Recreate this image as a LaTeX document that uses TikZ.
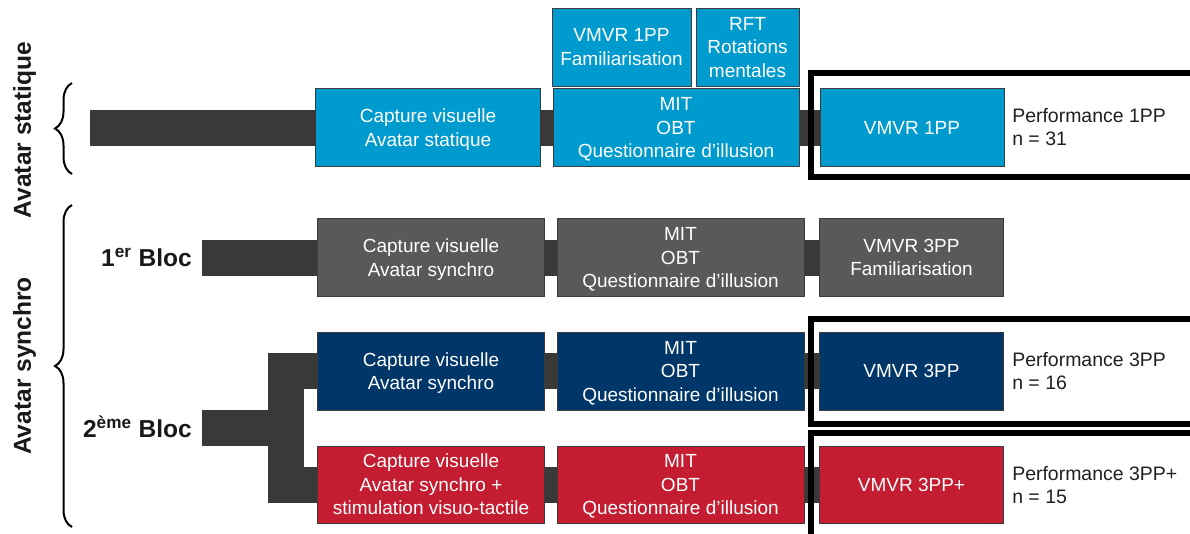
\documentclass[tikz,border=0pt]{standalone}
\usepackage{fontspec}
\setmainfont{Liberation Sans}
\usetikzlibrary{decorations.pathreplacing}
\definecolor{lblue}{RGB}{0,155,206}
\definecolor{gbox}{RGB}{89,89,89}
\definecolor{dblue}{RGB}{0,54,104}
\definecolor{rbox}{RGB}{196,28,48}
\definecolor{barcol}{RGB}{59,57,56}
\definecolor{boxline}{RGB}{60,60,60}
\newcommand\bxfont{\fontsize{14.25}{17.6}\selectfont}
\newcommand\pffont{\fontsize{14.6}{17.3}\selectfont}
\newcommand\sdfont{\fontsize{18.4}{22}\selectfont\bfseries}
\begin{document}
\begin{tikzpicture}[x=0.75pt,y=-0.75pt,
  box/.style={draw=boxline, line width=0.75pt, inner sep=0pt, align=center, text=white, font=\bxfont, text depth=0pt},
  sz/.style 2 args={minimum width=#1*0.75pt, minimum height=#2*0.75pt},
  bar/.style={draw=barcol, line width=27pt},
  frame/.style={draw=black, line width=4.5pt, line join=miter},
  side/.style={font=\sdfont, text=black!90, inner sep=0pt},
  perf/.style={font=\pffont, text=black!88, align=left, inner sep=0pt},
  curly/.style={decorate, decoration={brace, amplitude=12.75pt}, line width=1.5pt, draw=black}]
\useasboundingbox (0,0) rectangle (1190,533);
\clip (0,0) rectangle (1190,533);

% row 1 (Avatar statique)
\node[box, fill=lblue, sz={225}{78}] (cap1) at (428,127.5) {Capture visuelle\\Avatar statique};
\node[box, fill=lblue, sz={246}{78}] (mit1) at (676,127.5) {MIT\\OBT\\Questionnaire d’illusion};
\node[box, fill=lblue, sz={139}{78}] (fam1) at (621.5,47) {VMVR 1PP\\Familiarisation};
\node[box, fill=lblue, sz={103}{78}] (rft) at (747.5,47) {RFT\\Rotations\\mentales};
\node[box, fill=lblue, sz={184}{78}] (vm1) at (912,127.5) {VMVR 1PP};

% row 2 (1er bloc)
\node[box, fill=gbox, sz={227}{78}] (cap2) at (431,257.5) {Capture visuelle\\Avatar synchro};
\node[box, fill=gbox, sz={247}{78}] (mit2) at (680.5,257.5) {MIT\\OBT\\Questionnaire d’illusion};
\node[box, fill=gbox, sz={184}{78}] (vm2) at (911.5,257.5) {VMVR 3PP\\Familiarisation};

% row 3
\node[box, fill=dblue, sz={227}{78}] (cap3) at (431,371) {Capture visuelle\\Avatar synchro};
\node[box, fill=dblue, sz={247}{78}] (mit3) at (680.5,371) {MIT\\OBT\\Questionnaire d’illusion};
\node[box, fill=dblue, sz={184}{78}] (vm3) at (911.5,371) {VMVR 3PP};

% row 4
\node[box, fill=rbox, sz={227}{77}] (cap4) at (431,484.5) {Capture visuelle\\Avatar synchro +\\stimulation visuo-tactile};
\node[box, fill=rbox, sz={247}{77}] (mit4) at (680.5,484.5) {MIT\\OBT\\Questionnaire d’illusion};
\node[box, fill=rbox, sz={184}{77}] (vm4) at (911.5,484.5) {VMVR 3PP+};

% connectors
\coordinate (s1) at (90,127.5);
\coordinate (s2) at (202,257.5);
\coordinate (s4) at (202,428);
\coordinate (tr) at (286,428);
\draw[bar] (s1) -- (cap1.west);
\draw[bar] (cap1.east) -- (mit1.west);
\draw[bar] (mit1.east) -- (vm1.west);
\draw[bar] (s2) -- (cap2.west);
\draw[bar] (cap2.east) -- (mit2.west);
\draw[bar] (mit2.east) -- (vm2.west);
\draw[bar, line join=miter] (cap3.west) -- (cap3.west -| tr) -- (cap4.west -| tr) -- (cap4.west);
\draw[bar] (s4) -- (tr);
\draw[bar] (cap3.east) -- (mit3.west);
\draw[bar] (mit3.east) -- (vm3.west);
\draw[bar] (cap4.east) -- (mit4.west);
\draw[bar] (mit4.east) -- (vm4.west);

% frames
\draw[frame] (1200,73) -- (811,73) -- (811,177) -- (1200,177);
\draw[frame] (1200,318.5) -- (811,318.5) -- (811,423.5) -- (1200,423.5);
\draw[frame] (1200,433) -- (811,433) -- (811,545);

% performance labels
\node[perf, anchor=west] (p1) at (1012,127.5) {Performance 1PP\\n = 31};
\node[perf, anchor=west] (p3) at (1012,371.5) {Performance 3PP\\n = 16};
\node[perf, anchor=west] (p4) at (1012,485) {Performance 3PP+\\n = 15};

% braces and side labels
\draw[curly] (72,174) -- (72,83);
\draw[curly] (72,527) -- (72,205);
\node[side, rotate=90, anchor=base] (as) at (31,130) {Avatar statique};
\node[side, rotate=90, anchor=base] (asy) at (31,366) {Avatar synchro};
\node[side, anchor=base east] (b1) at (192,266) {1\textsuperscript{er} Bloc};
\node[side, anchor=base east] (b2) at (192,437) {2\textsuperscript{ème} Bloc};
\end{tikzpicture}
\end{document}
